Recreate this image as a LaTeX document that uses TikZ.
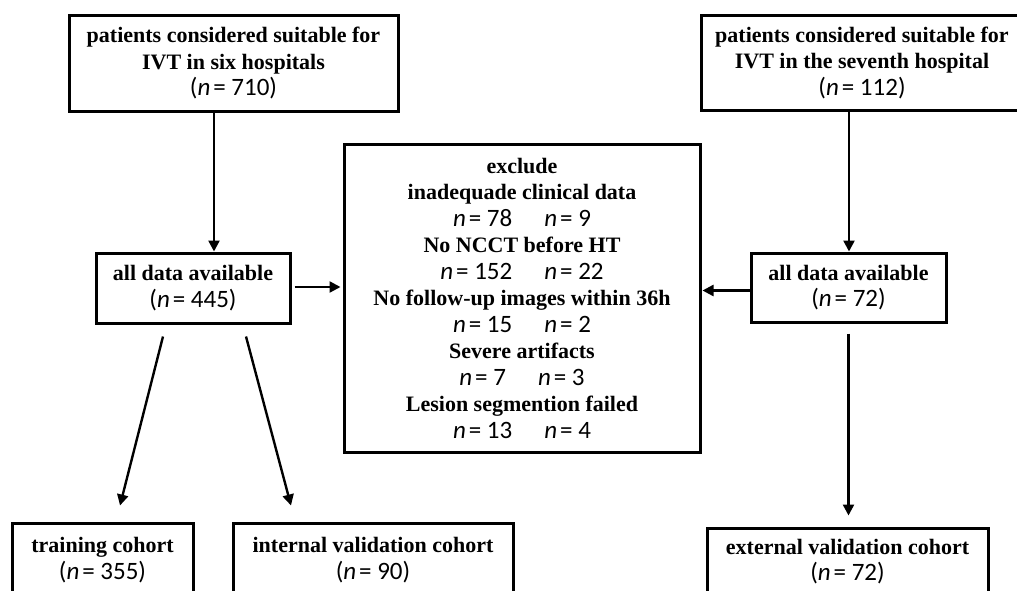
\documentclass[tikz,border=0pt]{standalone}
\usepackage{fontspec}
\setmainfont{Liberation Serif}
\newfontfamily\numf{Carlito}
\usetikzlibrary{arrows.meta}
\newcommand{\nnum}[1]{{\numf\mdseries\fontsize{25}{26.5}\selectfont(\textit{n}\kern3pt= #1)}}
\newcommand{\npair}[2]{{\numf\mdseries\fontsize{25}{26.5}\selectfont\textit{n}\kern3pt= #1\hspace{32pt}\textit{n}\kern3pt= #2}}
\begin{document}
\begin{tikzpicture}[x=1pt,y=-1pt,
  box/.style={draw, line width=3pt, inner sep=0pt, align=center,
    font=\bfseries\fontsize{22}{26.5}\selectfont},
  arr/.style={-{Triangle[length=11pt,width=11pt]}, line width=2.4pt}]
\clip (0,0) rectangle (1017,590);
\fill[white] (0,0) rectangle (1017,590);
\node[box, minimum width=329pt, minimum height=96pt] (tl) at (233.5,63)
  {patients considered suitable for\\IVT in six hospitals\\\nnum{710}};
\node[box, minimum width=322pt, minimum height=95pt] (tr) at (862,62.5)
  {patients considered suitable for\\IVT in the seventh hospital\\\nnum{112}};
\node[box, minimum width=194pt, minimum height=70pt] (l2) at (193,288)
  {all data available\\\nnum{445}};
\node[box, minimum width=195pt, minimum height=69pt] (r2) at (848.5,287.5)
  {all data available\\\nnum{72}};
\node[box, minimum width=356pt, minimum height=308pt] (ex) at (522,298)
  {exclude\\
   inadequade clinical data\\
   \npair{78}{9}\\
   No NCCT before HT\\
   \npair{152}{22}\\
   No follow-up images within 36h\\
   \npair{15}{2}\\
   Severe artifacts\\
   \npair{7}{3}\\
   Lesion segmention failed\\
   \npair{13}{4}};
\node[box, minimum width=181pt, minimum height=74pt] (train) at (102.5,560)
  {training cohort\\\nnum{355}};
\node[box, minimum width=280pt, minimum height=74pt] (int) at (373,560)
  {internal validation cohort\\\nnum{90}};
\node[box, minimum width=281pt, minimum height=67pt] (ext) at (847.5,561.5)
  {external validation cohort\\\nnum{72}};
\draw[arr] ([xshift=-19.5pt]tl.south) -- ([xshift=21pt]l2.north);
\draw[arr] ([xshift=-13pt]tr.south) -- ([xshift=0.5pt]r2.north);
\draw[arr, shorten <=3pt, shorten >=2pt] ([yshift=1pt]l2.east) -- ([yshift=1pt]l2.east -| ex.west);
\draw[arr, shorten >=1pt] ([yshift=-3pt]r2.west) -- ([yshift=-3pt]r2.west -| ex.east);
\draw[arr, shorten <=10pt, shorten >=11pt] (r2.south) -- (r2.south |- ext.north);
\draw[arr] ([xshift=-30pt,yshift=-12pt]l2.south) -- ([xshift=17.5pt,yshift=16pt]train.north);
\draw[arr] ([xshift=53pt,yshift=-12pt]l2.south) -- ([xshift=-82pt,yshift=16pt]int.north);
\end{tikzpicture}
\end{document}
